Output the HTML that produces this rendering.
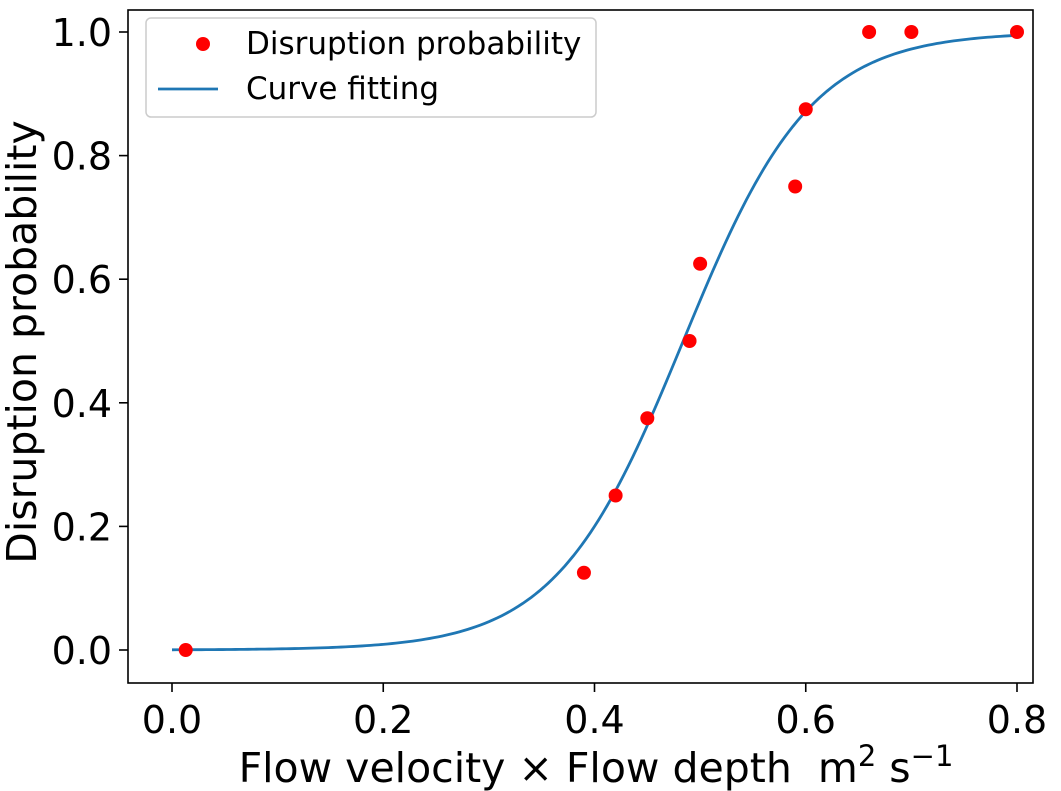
<!DOCTYPE html>
<html><head><meta charset="utf-8"><style>
body{margin:0;background:#fff}
svg{display:block;font-family:"DejaVu Sans","Liberation Sans",sans-serif}
</style></head><body>
<svg width="1061" height="791" viewBox="0 0 1061 791">
<g id="plot"></g>
</svg>
<script>
const xData=[0.013,0.39,0.42,0.45,0.49,0.50,0.59,0.60,0.66,0.70,0.80];
const yData=[0,0.125,0.25,0.375,0.5,0.625,0.75,0.875,1,1,1];
const xTicks=[0,0.2,0.4,0.6,0.8];
const xTickLabels=["0.0","0.2","0.4","0.6","0.8"];
const yTicks=[0,0.2,0.4,0.6,0.8,1.0];
const yTickLabels=["0.0","0.2","0.4","0.6","0.8","1.0"];
const fitK=16.5, fitX0=0.484;

const NS="http://www.w3.org/2000/svg";
const g=document.getElementById('plot');
const X=v=>172+v*1056.25;
const Y=v=>650-v*618;
function mk(t,a,txt){const e=document.createElementNS(NS,t);for(const k in a)e.setAttribute(k,a[k]);if(txt!=null)e.textContent=txt;g.appendChild(e);return e;}

let d="";
for(let i=0;i<=200;i++){const x=i/200*0.8;const y=1/(1+Math.exp(-fitK*(x-fitX0)));d+=(i?"L":"M")+X(x).toFixed(2)+","+Y(y).toFixed(2);}
const curve=mk('path',{d:d,fill:'none',stroke:'#1f77b4','stroke-width':2.8});



xData.forEach((x,i)=>{
  const c=mk('circle',{cx:X(x),cy:Y(yData[i]),r:7,fill:'#ff0000'});
  
  
});

const fr=mk('rect',{x:128,y:10,width:905,height:673,fill:'none',stroke:'#000','stroke-width':1.6});



xTicks.forEach((v,i)=>{
  mk('line',{x1:X(v),x2:X(v),y1:683,y2:692,stroke:'#000','stroke-width':1.6});
  const t=mk('text',{x:X(v),y:733,'font-size':38,'text-anchor':'middle'},xTickLabels[i]);
  
  
});
yTicks.forEach((v,i)=>{
  mk('line',{x1:119,x2:128,y1:Y(v),y2:Y(v),stroke:'#000','stroke-width':1.6});
  const t=mk('text',{x:112,y:Y(v)+14,'font-size':38,'text-anchor':'end'},yTickLabels[i]);
  
  
});

const xl=mk('text',{x:596,y:782,'font-size':41,'text-anchor':'middle'});
xl.innerHTML='Flow velocity × Flow depth\u00a0\u00a0m<tspan font-size="29" dy="-16">2</tspan><tspan dy="16">\u00a0s</tspan><tspan font-size="29" dy="-16">−1</tspan>';



const yl=mk('text',{x:0,y:0,'font-size':41,'text-anchor':'middle',transform:'translate(36,342) rotate(-90)'},'Disruption probability');



const lb=mk('rect',{x:146,y:18,width:450,height:99,rx:5,fill:'#fff',stroke:'#ccc','stroke-width':1.5,'fill-opacity':0.8});


const ld=mk('circle',{cx:203,cy:44,r:7,fill:'#ff0000'});


const lt1=mk('text',{x:246,y:54,'font-size':31},'Disruption probability');


const ll=mk('line',{x1:158,x2:218,y1:89,y2:89,stroke:'#1f77b4','stroke-width':2.8});


const lt2=mk('text',{x:246,y:99,'font-size':31},'Curve fitting');


</script>
</body></html>
